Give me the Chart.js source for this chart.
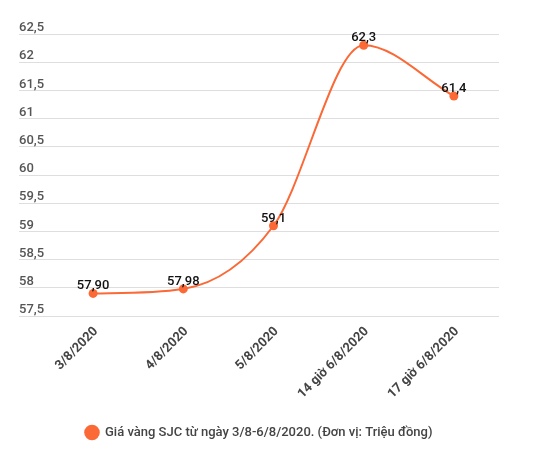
<!DOCTYPE html>
<html>
<head>
<meta charset="utf-8">
<script src="https://cdn.jsdelivr.net/npm/chart.js@4"></script>
<style>
  html, body { margin: 0; padding: 0; background: #fff; }
  #wrap { width: 538px; height: 453px; }
</style>
</head>
<body>
<div id="wrap"><canvas id="grafico"></canvas></div>
<script>
const ngay = ['3/8/2020', '4/8/2020', '5/8/2020', '14 giờ 6/8/2020', '17 giờ 6/8/2020'];
const giaVang = [57.90, 57.98, 59.1, 62.3, 61.4];
const nhanGia = ['57,90', '57,98', '59,1', '62,3', '61,4'];
const yMin = 57.5;
const yMax = 62.5;
const yStep = 0.5;

const cam = '#FB6937';

// ve nhan gia tri ngay tren moi diem
const nhanDiem = {
  id: 'nhanDiem',
  afterDatasetsDraw(chart) {
    const c = chart.ctx;
    const meta = chart.getDatasetMeta(0);
    c.save();
    c.font = '500 13px Roboto';
    c.fillStyle = '#111';
    c.textAlign = 'center';
    c.textBaseline = 'alphabetic';
    meta.data.forEach((pt, i) => {
      c.fillText(nhanGia[i], pt.x, pt.y - 4);
    });
    c.restore();
  }
};

const ctx = document.getElementById('grafico').getContext('2d');
new Chart(ctx, {
  type: 'line',
  data: {
    labels: ngay,
    datasets: [{
      label: 'Giá vàng SJC từ ngày 3/8-6/8/2020. (Đơn vị: Triệu đồng)',
      data: giaVang,
      borderColor: cam,
      backgroundColor: cam,
      borderWidth: 2,
      pointRadius: 4.5,
      pointHoverRadius: 4.5,
      pointBorderWidth: 0,
      pointBackgroundColor: cam,
      cubicInterpolationMode: 'monotone',
      fill: false
    }]
  },
  options: {
    responsive: true,
    maintainAspectRatio: false,
    animation: false,
    layout: { padding: { left: 19, right: 39, top: 34, bottom: 4 } },
    plugins: {
      tooltip: { enabled: false },
      legend: {
        position: 'bottom',
        labels: {
          usePointStyle: true,
          pointStyle: 'circle',
          boxHeight: 11,
          padding: 14,
          color: '#444',
          font: { family: 'Roboto', size: 13, weight: '500' }
        }
      }
    },
    scales: {
      x: {
        offset: true,
        afterFit(scale) { scale.height = 96; },
        grid: { display: false, drawTicks: false },
        border: { display: false },
        ticks: {
          minRotation: 45,
          maxRotation: 45,
          padding: 8,
          labelOffset: 3,
          color: '#444',
          font: { family: 'Roboto', size: 13, weight: 'bold' }
        }
      },
      y: {
        min: yMin,
        max: yMax,
        afterFit(scale) { scale.width = 29; },
        grid: { color: '#dedede', tickLength: 29, drawTicks: true },
        border: { display: false },
        ticks: {
          stepSize: yStep,
          crossAlign: 'far',
          labelOffset: -6,
          color: '#555',
          font: { family: 'Roboto', size: 13, weight: '500' },
          callback: v => String(v).replace('.', ',')
        }
      }
    }
  },
  plugins: [nhanDiem]
});
</script>
</body>
</html>
